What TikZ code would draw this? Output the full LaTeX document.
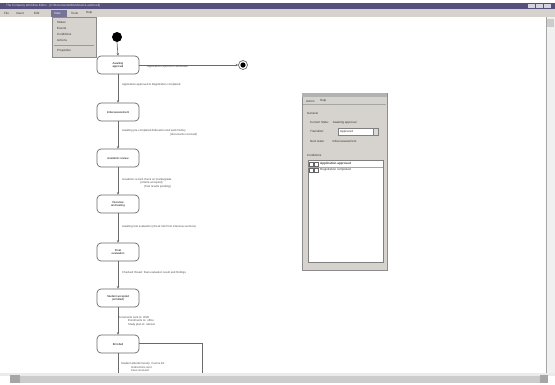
\documentclass[tikz,border=0pt]{standalone}
\usepackage{fontspec}
\setmainfont{Liberation Sans}
\usetikzlibrary{arrows.meta}
\definecolor{titlebar}{HTML}{55507C}
\definecolor{winGray}{HTML}{D6D3CE}
\definecolor{lineGray}{HTML}{6A6A6A}
\tikzset{
  stbox/.style={draw=lineGray, line width=0.7pt, rounded corners=4pt, fill=white,
    minimum width=42pt, minimum height=18pt, inner sep=0pt, align=center,
    font=\fontsize{2.8}{3.4}\selectfont},
  conn/.style={draw=lineGray, line width=0.7pt, -{Stealth[length=2.5pt,width=2.5pt]}},
  plainconn/.style={draw=lineGray, line width=0.7pt},
  elabel/.style={anchor=west, inner sep=0pt, align=left, text=black!70,
    font=\fontsize{2.8}{3.6}\selectfont},
  uitext/.style={anchor=west, inner sep=0pt, text=black!80,
    font=\fontsize{3}{3.6}\selectfont},
}
\begin{document}
\begin{tikzpicture}[x=1pt,y=-1pt]
\useasboundingbox (0,0) rectangle (555,384);
\fill[white] (0,0) rectangle (555,384);
% title bar
\fill[titlebar] (0,3) rectangle (555,9);
\node[uitext, text=white!85!titlebar] (title) at (6,6) {The Company Workflow Editor - [C:\textbackslash Documents\textbackslash Workflows\textbackslash 1-admit.wfl]};
\fill[white!75!titlebar] (528,4) rectangle (535,8);
\fill[white!75!titlebar] (536,4) rectangle (543,8);
\fill[white!75!titlebar] (544,4) rectangle (551,8);
% menu bar
\fill[winGray] (0,9) rectangle (555,17);
\node[uitext] (mfile) at (4,13) {File};
\node[uitext] (mins) at (16,13) {Insert};
\node[uitext] (medit) at (34,13) {Edit};
\fill[titlebar!80] (51,9.5) rectangle (67,16.5);
\node[uitext, text=white] (mview) at (54,13) {View};
\node[uitext] (mtools) at (71,13) {Tools};
\node[uitext] (mhelp) at (86,13) {Help};
% canvas border / scrollbars
\fill[black!6] (546,17) rectangle (555,373);
\draw[black!35, line width=0.4pt] (546,17) -- (546,373);
\fill[black!20] (547,19) rectangle (554,27);
\fill[black!8] (0,373) rectangle (555,376);
\fill[black!20] (10,376) rectangle (548,383);
\fill[black!35] (10,375) rectangle (20,383);
\fill[black!35] (540,375) rectangle (548,383);
% dropdown menu
\fill[black!30] (53,18) rectangle (97,58);
\fill[winGray] (52,17) rectangle (96,57);
\draw[black!45, line width=0.3pt] (52,17) rectangle (96,57);
\node[uitext] (dd1) at (57,22) {States};
\node[uitext] (dd2) at (57,28) {Events};
\node[uitext] (dd3) at (57,34) {Conditions};
\node[uitext] (dd4) at (57,40) {Actions};
\draw[black!40, line width=0.3pt] (54,45) -- (94,45);
\node[uitext] (dd5) at (57,51) {Properties};
% diagram
\fill[black] (117,37) circle (5pt);
\coordinate (start) at (117,42);
\node[stbox] (s1) at (118,65) {Awaiting\\approval};
\node[stbox] (s2) at (118,112) {Initial assessment};
\node[stbox] (s3) at (118,158) {Academic review};
\node[stbox] (s4) at (118,204) {Interview\\and testing};
\node[stbox] (s5) at (118,252) {Final\\evaluation};
\node[stbox] (s6) at (118,298) {Student accepted\\(enrolled)};
\node[stbox] (s7) at (118,344) {Enrolled};
\node[circle, draw=lineGray, line width=0.7pt, fill=white, minimum size=9pt, inner sep=0pt] (fin) at (243,65) {};
\fill[black] (fin.center) circle (2.6pt);
\draw[conn] (start) -- (s1.north);
\draw[conn] (s1.east) -- (fin.west);
\draw[conn] (s1.south) -- (s2.north);
\draw[conn] (s2.south) -- (s3.north);
\draw[conn] (s3.south) -- (s4.north);
\draw[conn] (s4.south) -- (s5.north);
\draw[conn] (s5.south) -- (s6.north);
\draw[conn] (s6.south) -- (s7.north);
\coordinate (c1) at (202,343);
\coordinate (c2) at (202,373);
\coordinate (c3) at (118,373);
\draw[plainconn] (s7.east |- c1) -- (c1) -- (c2);
\draw[plainconn] (s7.south) -- (c3);
% labels
\node[elabel] (l0) at (147,67) {Application rejected or withdrawn};
\node[elabel] (l1) at (122,85) {Application approved \& Registration completed};
\node[elabel] (l2) at (122,133) {Awaiting pre-completed Education and work history\\\hspace*{48pt}(documents received)};
\node[elabel] (l3) at (122,183) {Academic record check on marks/grade\\\hspace*{18pt}(criteria accepted)\\\hspace*{22pt}(Test results pending)};
\node[elabel] (l4) at (122,227) {Awaiting test evaluation (check risk from interview sections)};
\node[elabel] (l5) at (122,273) {Checked thread: final evaluation result and findings};
\node[elabel] (l6) at (118,321) {Documents sent to: RSD\\\hspace*{10pt}Enrolments to: office\\\hspace*{10pt}Study plan to: advisor};
\node[elabel] (l7) at (121,367) {Student attends faculty. Course list\\\hspace*{10pt}Instructions sent\\\hspace*{10pt}Fees received};
% property panel
\fill[winGray] (302,93) rectangle (387,270);
\draw[black!45, line width=0.4pt] (302,93) rectangle (387,270);
\fill[black!30] (302,93) rectangle (387,97);
\node[uitext] (pm1) at (306,101) {Action};
\node[uitext] (pm2) at (320,101) {Help};
\draw[black!35, line width=0.3pt] (303,104) -- (386,104);
\node[uitext] (pg) at (307,113) {General};
\node[uitext] (pcs) at (310,123) {Current State:\hspace{4pt}Awaiting approval};
\node[uitext] (ptr) at (310,131) {Transition:};
\draw[black!50, fill=white, line width=0.3pt] (338,128) rectangle (378,135);
\node[uitext] (pcb) at (340,131.5) {Approved};
\draw[black!50, fill=black!15, line width=0.3pt] (373,128) rectangle (378,135);
\node[uitext] (pns) at (310,141) {Next state:\hspace{8pt}Initial assessment};
\node[uitext] (pc) at (307,155) {Conditions};
\draw[black!50, fill=white, line width=0.3pt] (308,160) rectangle (383,262);
\draw[black!60, line width=0.3pt] (309.5,162) rectangle (313.5,166);
\draw[black!60, line width=0.3pt] (314.5,162) rectangle (318.5,166);
\node[uitext, font=\fontsize{3}{3.6}\selectfont\bfseries] (pr1) at (320,164) {Application approved};
\draw[black!60, line width=0.3pt] (309.5,168) rectangle (313.5,172);
\draw[black!60, line width=0.3pt] (314.5,168) rectangle (318.5,172);
\node[uitext] (pr2) at (320,170) {Registration completed};
\draw[black!35, line width=0.3pt] (308,167) -- (383,167);
\end{tikzpicture}
\end{document}
